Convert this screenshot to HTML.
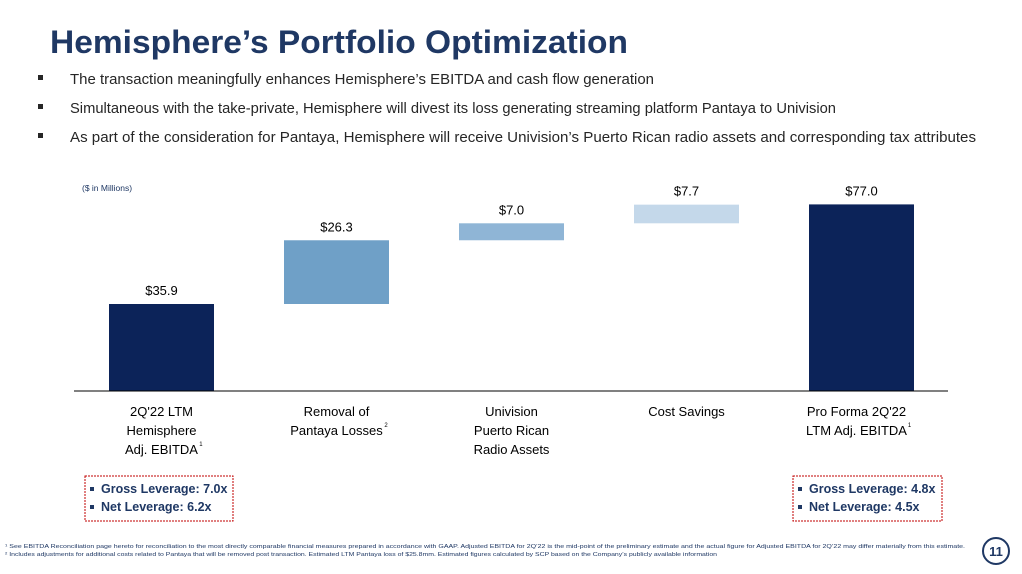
<!DOCTYPE html>
<html><head><meta charset="utf-8"><style>
html,body{margin:0;padding:0;background:#fff;}
svg{display:block;font-family:"Liberation Sans",sans-serif;}
</style></head><body>
<svg id="chart" width="1022" height="574" viewBox="0 0 1022 574" xmlns="http://www.w3.org/2000/svg">
<text x="50" y="53" font-size="32" font-weight="bold" fill="#1f3864" textLength="578" lengthAdjust="spacingAndGlyphs">Hemisphere’s Portfolio Optimization</text>
<g font-size="15" fill="#262626">
<rect x="38" y="75" width="5" height="5" fill="#262626"/>
<text x="70" y="84" textLength="584" lengthAdjust="spacingAndGlyphs">The transaction meaningfully enhances Hemisphere’s EBITDA and cash flow generation</text>
<rect x="38" y="104" width="5" height="5" fill="#262626"/>
<text x="70" y="113" textLength="766" lengthAdjust="spacingAndGlyphs">Simultaneous with the take-private, Hemisphere will divest its loss generating streaming platform Pantaya to Univision</text>
<rect x="38" y="133" width="5" height="5" fill="#262626"/>
<text x="70" y="142" textLength="906" lengthAdjust="spacingAndGlyphs">As part of the consideration for Pantaya, Hemisphere will receive Univision’s Puerto Rican radio assets and corresponding tax attributes</text>
</g>
<text x="82" y="191" font-size="8.5" fill="#1f3864">($ in Millions)</text>
<g id="bars"></g>
<line x1="74" y1="391" x2="948" y2="391" stroke="#000" stroke-width="1"/>
<g id="cats" font-size="13" fill="#000" text-anchor="middle"></g>
<g>
<rect x="85" y="476" width="148" height="45" fill="none" stroke="#c00000" stroke-width="1" stroke-dasharray="2,1"/>
<rect x="90" y="487" width="4" height="4" fill="#1f3864"/>
<text x="101" y="493" font-size="12.5" font-weight="bold" fill="#1f3864">Gross Leverage: 7.0x</text>
<rect x="90" y="505" width="4" height="4" fill="#1f3864"/>
<text x="101" y="511" font-size="12.5" font-weight="bold" fill="#1f3864">Net Leverage: 6.2x</text>
</g>
<g>
<rect x="793" y="476" width="149" height="45" fill="none" stroke="#c00000" stroke-width="1" stroke-dasharray="2,1"/>
<rect x="798" y="487" width="4" height="4" fill="#1f3864"/>
<text x="809" y="493" font-size="12.5" font-weight="bold" fill="#1f3864">Gross Leverage: 4.8x</text>
<rect x="798" y="505" width="4" height="4" fill="#1f3864"/>
<text x="809" y="511" font-size="12.5" font-weight="bold" fill="#1f3864">Net Leverage: 4.5x</text>
</g>
<g font-size="5.5" fill="#1f3864">
<text x="5" y="548" textLength="960" lengthAdjust="spacingAndGlyphs">¹ See EBITDA Reconciliation page hereto for reconciliation to the most directly comparable financial measures prepared in accordance with GAAP. Adjusted EBITDA for 2Q’22 is the mid-point of the preliminary estimate and the actual figure for Adjusted EBITDA for 2Q’22 may differ materially from this estimate.</text>
<text x="5" y="556" textLength="712" lengthAdjust="spacingAndGlyphs">² Includes adjustments for additional costs related to Pantaya that will be removed post transaction. Estimated LTM Pantaya loss of $25.8mm. Estimated figures calculated by SCP based on the Company’s publicly available information</text>
</g>
<g>
<circle cx="996" cy="551" r="13" fill="#fff" stroke="#1f3864" stroke-width="2"/>
<text x="996" y="556" font-size="13" font-weight="bold" fill="#1f3864" text-anchor="middle">11</text>
</g>
</svg>
<script>
const categories=[["2Q'22 LTM","Hemisphere","Adj. EBITDA"],["Removal of","Pantaya Losses"],["Univision","Puerto Rican","Radio Assets"],["Cost Savings"],["Pro Forma 2Q'22","LTM Adj. EBITDA"]];
const values=[35.9,26.3,7.0,7.7,77.0];
const isTotal=[true,false,false,false,true];
const valueLabels=["$35.9","$26.3","$7.0","$7.7","$77.0"];
const footRefs=["1","2","","","1"];
const colors=["#0c2359","#6fa0c7","#8fb5d6","#c4d8ea","#0c2359"];
const NS="http://www.w3.org/2000/svg";
const baseY=391, scale=186.6/77;
const y=v=>baseY-v*scale;
const xc=i=>161.5+i*175, bw=105;
const gb=document.getElementById('bars'), gc=document.getElementById('cats');
let cum=0;
values.forEach((v,i)=>{
  let lo,hi;
  if(isTotal[i]){lo=0;hi=v;cum=v;}else{lo=cum;hi=cum+v;cum=hi;}
  const r=document.createElementNS(NS,'rect');
  
  
  r.setAttribute('x',xc(i)-bw/2);r.setAttribute('y',y(hi));
  r.setAttribute('width',bw);r.setAttribute('height',y(lo)-y(hi));
  r.setAttribute('fill',colors[i]);gb.appendChild(r);
  const t=document.createElementNS(NS,'text');
  
  
  t.setAttribute('x',xc(i));t.setAttribute('y',y(hi)-9);
  t.setAttribute('text-anchor','middle');t.setAttribute('font-size','13');
  t.textContent=valueLabels[i];gb.appendChild(t);
  const lines=categories[i];
  lines.forEach((ln,j)=>{
    const c=document.createElementNS(NS,'text');
    
    
    c.setAttribute('x',xc(i)+(i==4?-5:0));c.setAttribute('y',416+j*19);
    c.textContent=ln;gc.appendChild(c);
    if(j==lines.length-1&&footRefs[i]){
      const s=document.createElementNS(NS,'text');
      
      
      const w=ln.length*3.4;
      s.setAttribute('x',xc(i)+(i==4?-5:0)+w+2);s.setAttribute('y',416+j*19-8);
      s.setAttribute('font-size','6');s.textContent=footRefs[i];gc.appendChild(s);
    }
  });
});
</script>
</body></html>
